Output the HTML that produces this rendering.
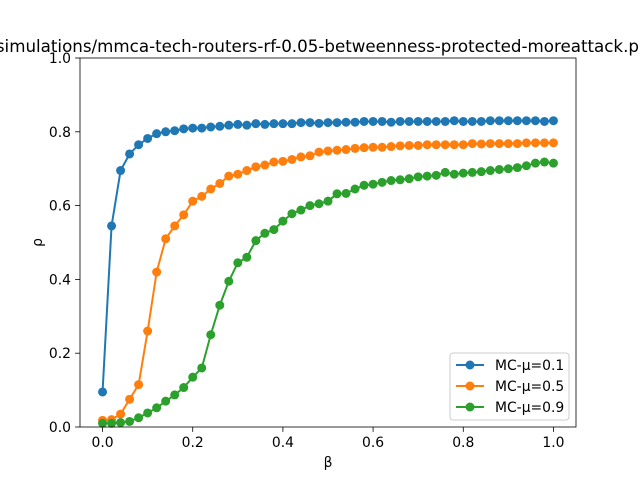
<!DOCTYPE html>
<html><head><meta charset="utf-8"><style>
body{margin:0;background:#fff}
svg text{font-family:"DejaVu Sans","Liberation Sans",sans-serif;fill:#000}
</style></head><body>
<svg id="chart" width="640" height="480">
<rect width="640" height="480" fill="#fff"/>
<text x="328" y="52" text-anchor="middle" font-size="16.7">simulations/mmca-tech-routers-rf-0.05-betweenness-protected-moreattack.png</text>
<g id="plot"></g>
</svg>
<script>
const betaStart = 0, betaStep = 0.02;
const seriesNames = ["MC-μ=0.1","MC-μ=0.5","MC-μ=0.9"];
const colors = ["#1f77b4","#ff7f0e","#2ca02c"];
const blue = [0.095,0.545,0.695,0.74,0.765,0.782,0.795,0.8,0.803,0.808,0.81,0.81,0.813,0.815,0.818,0.82,0.818,0.822,0.82,0.822,0.822,0.822,0.825,0.825,0.823,0.825,0.825,0.826,0.826,0.828,0.828,0.828,0.826,0.828,0.828,0.828,0.828,0.828,0.828,0.83,0.828,0.828,0.828,0.83,0.83,0.83,0.83,0.83,0.83,0.828,0.83];
const orange = [0.018,0.02,0.035,0.075,0.115,0.26,0.42,0.51,0.545,0.575,0.612,0.625,0.645,0.66,0.68,0.685,0.695,0.705,0.71,0.718,0.72,0.725,0.732,0.735,0.745,0.748,0.75,0.752,0.755,0.757,0.758,0.758,0.76,0.762,0.763,0.763,0.765,0.765,0.765,0.765,0.765,0.768,0.767,0.768,0.768,0.768,0.768,0.77,0.77,0.77,0.77];
const green = [0.01,0.01,0.012,0.015,0.025,0.038,0.052,0.07,0.087,0.107,0.135,0.16,0.25,0.33,0.395,0.445,0.46,0.505,0.525,0.535,0.558,0.578,0.588,0.6,0.605,0.612,0.632,0.633,0.645,0.655,0.658,0.663,0.668,0.67,0.673,0.678,0.68,0.682,0.69,0.685,0.688,0.69,0.692,0.695,0.698,0.7,0.703,0.708,0.715,0.718,0.715];
const xTicks = [0,0.2,0.4,0.6,0.8,1.0];
const xTickLabels = ["0.0","0.2","0.4","0.6","0.8","1.0"];
const yTicks = [0,0.2,0.4,0.6,0.8,1.0];
const yTickLabels = ["0.0","0.2","0.4","0.6","0.8","1.0"];

const L=80,R=576,T=58,B=427;
const xs=v=>L+(v+0.05)/1.1*(R-L);
const ys=v=>B-v*(B-T);
const NS="http://www.w3.org/2000/svg";
const g=document.getElementById('plot');
function mk(t,a,p){const e=document.createElementNS(NS,t);for(const k in a)e.setAttribute(k,a[k]);(p||g).appendChild(e);return e;}

xTicks.forEach((v,i)=>{
  const l=mk('line',{x1:xs(v),x2:xs(v),y1:B,y2:B+4.9,stroke:'#000','stroke-width':0.8});
  
  
  const t=mk('text',{x:xs(v),y:B+20,'text-anchor':'middle','font-size':13.9});
  t.textContent=xTickLabels[i];
  
  
});
yTicks.forEach((v,i)=>{
  const l=mk('line',{x1:L-4.9,x2:L,y1:ys(v),y2:ys(v),stroke:'#000','stroke-width':0.8});
  
  
  const t=mk('text',{x:L-9,y:ys(v)+5,'text-anchor':'end','font-size':13.9});
  t.textContent=yTickLabels[i];
  
  
});
const xt=mk('text',{x:(L+R)/2,y:467,'text-anchor':'middle','font-size':13.9});xt.textContent='β';


const yt=mk('text',{x:0,y:0,'text-anchor':'middle','font-size':13.9,transform:`translate(42,${(T+B)/2}) rotate(-90)`});yt.textContent='ρ';



[blue,orange,green].forEach((arr,si)=>{
  const pts=arr.map((v,i)=>xs(betaStart+i*betaStep).toFixed(2)+','+ys(v).toFixed(2)).join(' ');
  const pl=mk('polyline',{points:pts,fill:'none',stroke:colors[si],'stroke-width':2});
  
  
  arr.forEach((v,i)=>{
    const c=mk('circle',{cx:xs(betaStart+i*betaStep),cy:ys(v),r:4.5,fill:colors[si]});
    
    
  });
});
const fr=mk('rect',{x:L,y:T,width:R-L,height:B-T,fill:'none',stroke:'#000','stroke-width':0.8});



const lg=mk('g',{});


mk('rect',{x:450,y:353,width:119,height:67,rx:3,fill:'#fff','fill-opacity':0.8,stroke:'#ccc','stroke-width':1},lg);
seriesNames.forEach((n,i)=>{
  const y=365+i*21;
  const e=mk('g',{},lg);
  
  
  mk('line',{x1:456,x2:484,y1:y,y2:y,stroke:colors[i],'stroke-width':2},e);
  mk('circle',{cx:470,cy:y,r:4.5,fill:colors[i]},e);
  const t=mk('text',{x:495,y:y+5,'font-size':13.9},e);t.textContent=n;
});
</script>
</body></html>
